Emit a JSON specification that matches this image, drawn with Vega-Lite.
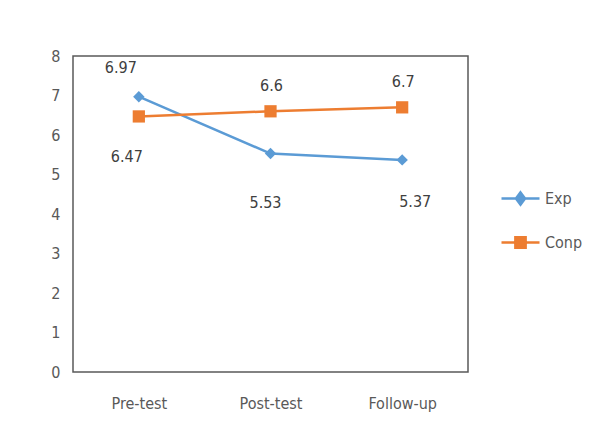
{
  "$schema": "https://vega.github.io/schema/vega-lite/v6.json",
  "width": 395,
  "height": 316,
  "autosize": {"type": "none"},
  "padding": {"left": 73, "top": 56, "right": 133, "bottom": 62},
  "background": "white",
  "config": {
    "view": {"stroke": "#595959", "strokeWidth": 1.5},
    "font": "DejaVu Sans Condensed",
    "axis": {"labelFont": "DejaVu Sans Condensed", "labelFontSize": 16, "labelColor": "#595959"},
    "legend": {"labelFont": "DejaVu Sans Condensed", "labelFontSize": 16, "labelColor": "#595959"},
    "text": {"font": "DejaVu Sans Condensed"}
  },
  "data": {
    "values": [
      {"test": "Pre-test", "group": "Exp", "value": 6.97},
      {"test": "Post-test", "group": "Exp", "value": 5.53},
      {"test": "Follow-up", "group": "Exp", "value": 5.37},
      {"test": "Pre-test", "group": "Conp", "value": 6.47},
      {"test": "Post-test", "group": "Conp", "value": 6.6},
      {"test": "Follow-up", "group": "Conp", "value": 6.7}
    ]
  },
  "encoding": {
    "x": {
      "field": "test", "type": "nominal",
      "sort": ["Pre-test", "Post-test", "Follow-up"],
      "scale": {"type": "point", "padding": 0.5},
      "axis": {"title": null, "labelAngle": 0, "ticks": false, "domain": false, "labelPadding": 23}
    },
    "y": {
      "field": "value", "type": "quantitative",
      "scale": {"domain": [0, 8], "nice": false},
      "axis": {"title": null, "values": [0, 1, 2, 3, 4, 5, 6, 7, 8], "grid": false, "ticks": false, "domain": false, "labelPadding": 13}
    },
    "color": {
      "field": "group", "type": "nominal",
      "scale": {"domain": ["Exp", "Conp"], "range": ["#5B9BD5", "#ED7D31"]},
      "legend": {
        "orient": "none", "legendX": 427, "legendY": 122, "title": null,
        "symbolSize": 1444, "symbolStrokeWidth": 2.5, "rowPadding": 12, "labelOffset": 4,
        "encode": {
          "symbols": {
            "update": {
              "shape": {"signal": "datum.value === 'Exp' ? 'M-1,0L1,0M0,-0.32L0.24,0L0,0.32L-0.24,0Z' : 'M-1,0L1,0M-0.27,-0.27L0.27,-0.27L0.27,0.27L-0.27,0.27Z'"},
              "fill": {"signal": "datum.value === 'Exp' ? '#5B9BD5' : '#ED7D31'"},
              "stroke": {"signal": "datum.value === 'Exp' ? '#5B9BD5' : '#ED7D31'"},
              "size": {"value": 1444},
              "strokeWidth": {"value": 2.5}
            }
          }
        }
      }
    }
  },
  "layer": [
    {
      "mark": {"type": "line", "strokeWidth": 2.5}
    },
    {
      "transform": [{"filter": "datum.group === 'Exp'"}],
      "mark": {"type": "point", "filled": true, "opacity": 1, "shape": "diamond", "size": 130}
    },
    {
      "transform": [{"filter": "datum.group === 'Conp'"}],
      "mark": {"type": "point", "filled": true, "opacity": 1, "shape": "square", "size": 150}
    },
    {
      "transform": [{"filter": "datum.group === 'Exp' && datum.test === 'Pre-test'"}],
      "mark": {"type": "text", "fontSize": 16, "dx": -18, "dy": -29},
      "encoding": {"text": {"field": "value", "type": "quantitative"}, "color": {"value": "#404040"}}
    },
    {
      "transform": [{"filter": "datum.group === 'Exp' && datum.test === 'Post-test'"}],
      "mark": {"type": "text", "fontSize": 16, "dx": -5, "dy": 49},
      "encoding": {"text": {"field": "value", "type": "quantitative"}, "color": {"value": "#404040"}}
    },
    {
      "transform": [{"filter": "datum.group === 'Exp' && datum.test === 'Follow-up'"}],
      "mark": {"type": "text", "fontSize": 16, "dx": 13, "dy": 42},
      "encoding": {"text": {"field": "value", "type": "quantitative"}, "color": {"value": "#404040"}}
    },
    {
      "transform": [{"filter": "datum.group === 'Conp' && datum.test === 'Pre-test'"}],
      "mark": {"type": "text", "fontSize": 16, "dx": -12, "dy": 41},
      "encoding": {"text": {"field": "value", "type": "quantitative"}, "color": {"value": "#404040"}}
    },
    {
      "transform": [{"filter": "datum.group === 'Conp' && datum.test !== 'Pre-test'"}],
      "mark": {"type": "text", "fontSize": 16, "dx": 1, "dy": -25},
      "encoding": {"text": {"field": "value", "type": "quantitative"}, "color": {"value": "#404040"}}
    }
  ]
}
